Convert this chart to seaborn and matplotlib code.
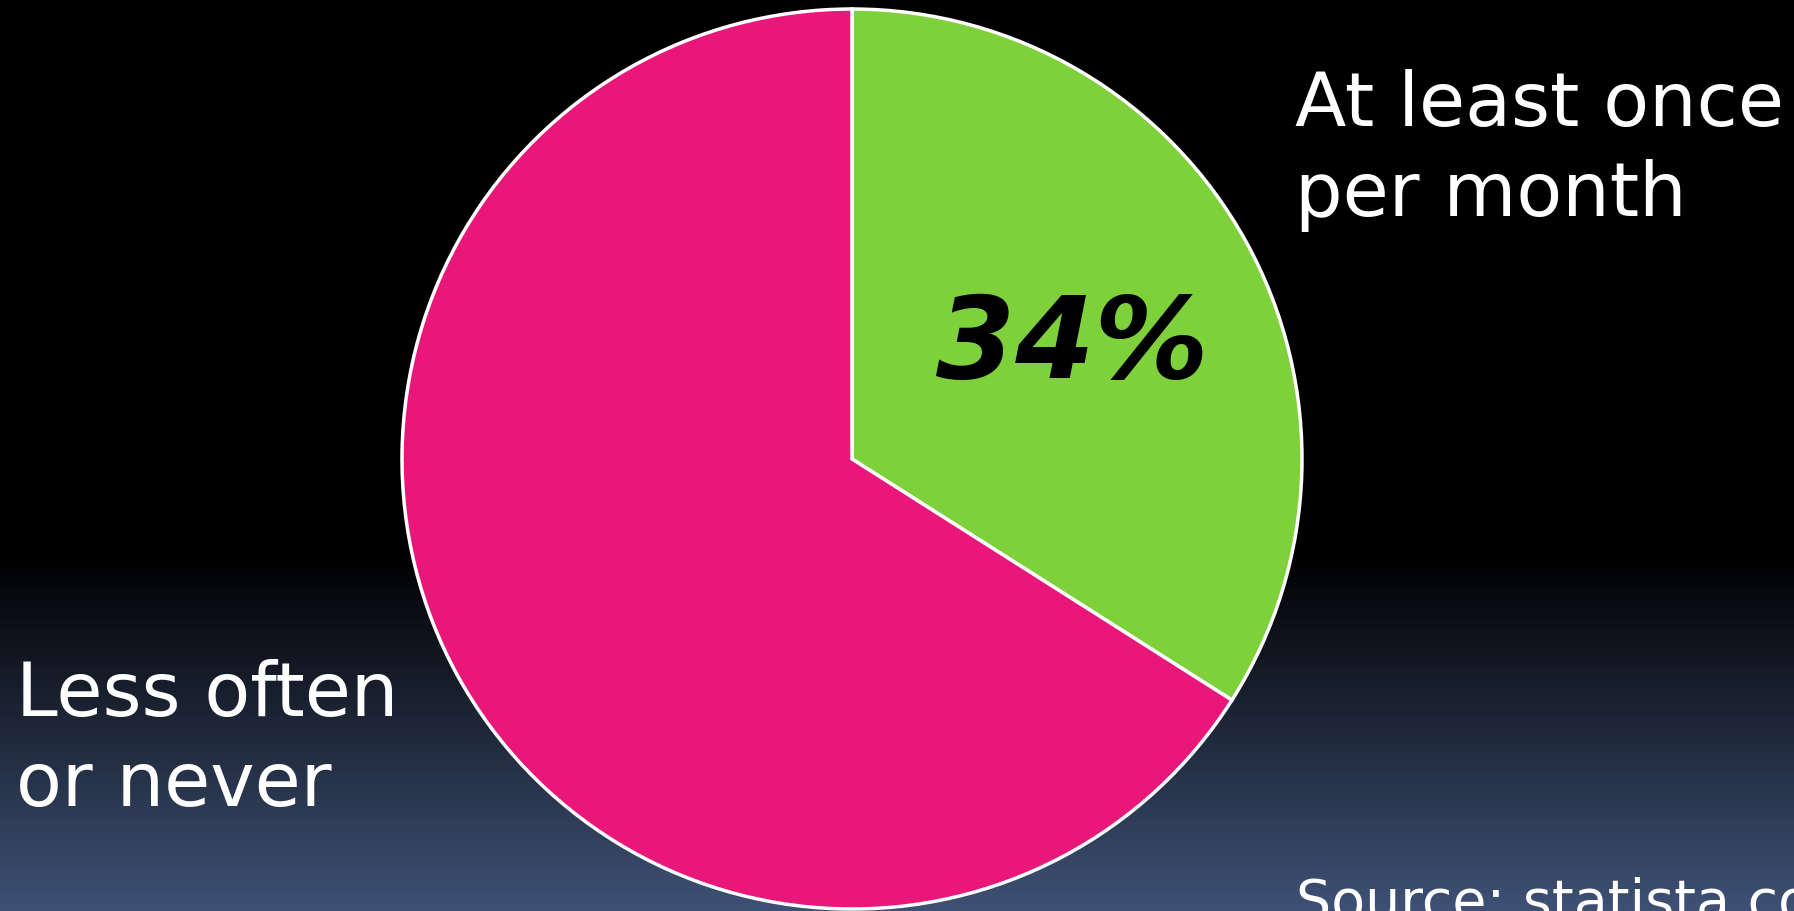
import numpy as np
import matplotlib.pyplot as plt
import seaborn as sns

# 数据
labels = ["At least once\nper month", "Less often\nor never"]
shares = [34, 66]
slice_colors = ["#7FD13B", "#E9177A"]
pct_label = "34%"
source_text = "Source: statista.com"

sns.set_theme(style="white")
plt.rcParams['font.family'] = ['DejaVu Sans']

W, H = 1794, 911
fig = plt.figure(figsize=(W / 100, H / 100), dpi=100)

# 背景渐变：上部黑色，下部过渡到蓝灰色
bg = fig.add_axes([0, 0, 1, 1])
t = np.linspace(0, 1, 400)
frac = np.clip((t - 0.61) / 0.39, 0, 1)
bottom = np.array([62, 81, 117]) / 255.0
grad = (frac[:, None] * bottom[None, :])[:, None, :]
bg.imshow(grad, aspect='auto', extent=[0, 1, 0, 1])
bg.set_axis_off()

# 饼图
r_px = 450
cx, cy = 852, 459
ax = fig.add_axes([(cx - r_px) / W, (H - cy - r_px) / H, 2 * r_px / W, 2 * r_px / H])
ax.pie(shares, colors=slice_colors, startangle=90, counterclock=False,
       wedgeprops=dict(edgecolor='white', linewidth=2.5))
ax.set_xlim(-1, 1)
ax.set_ylim(-1, 1)
ax.set_axis_off()

fig.text(1072 / W, 1 - 378 / H, pct_label, ha='center', va='baseline',
         fontsize=82, fontweight='bold', fontstyle='italic', color='black')

# va='baseline' 对齐最后一行的基线
fig.text(1295 / W, 1 - 216 / H, labels[0], ha='left', va='baseline',
         fontsize=54, color='white', linespacing=1.3)
fig.text(16 / W, 1 - 806 / H, labels[1], ha='left', va='baseline',
         fontsize=54, color='white', linespacing=1.3)
fig.text(1296 / W, 1 - 919 / H, source_text, ha='left', va='baseline',
         fontsize=40, color='white')

fig.savefig('out.png', dpi=100)
